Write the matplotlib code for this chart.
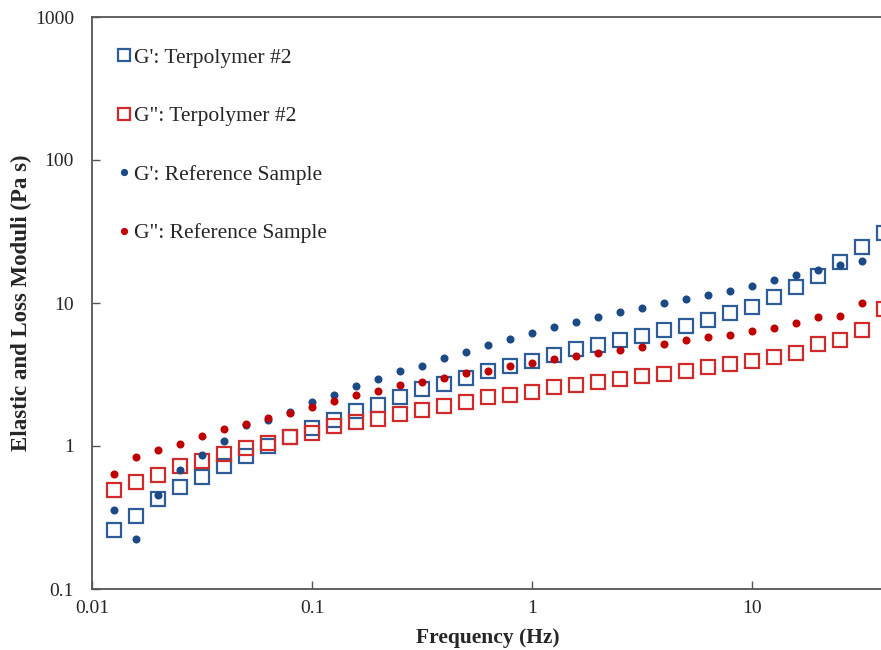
import matplotlib
matplotlib.use('Agg')
from matplotlib import pyplot as plt
from matplotlib.ticker import FixedLocator, FixedFormatter, NullLocator

# frequency (Hz)
freq = [0.0126, 0.0158, 0.02, 0.0251, 0.0316, 0.0398, 0.0501, 0.0631, 0.0794,
        0.1, 0.126, 0.158, 0.2, 0.251, 0.316, 0.398, 0.501, 0.631, 0.794,
        1.0, 1.26, 1.58, 2.0, 2.51, 3.16, 3.98, 5.01, 6.31, 7.94,
        10.0, 12.6, 15.8, 20.0, 25.1, 31.6, 39.8]

# Terpolymer #2
g1_terp = [0.259, 0.324, 0.428, 0.517, 0.610, 0.725, 0.851, 1.0, 1.156,
           1.336, 1.52, 1.757, 1.935, 2.20, 2.50, 2.71, 2.99, 3.34, 3.63,
           3.95, 4.33, 4.77, 5.08, 5.51, 5.91, 6.47, 6.90, 7.61, 8.51,
           9.42, 11.0, 12.9, 15.5, 19.3, 24.8, 30.9]
g2_terp = [0.492, 0.560, 0.630, 0.725, 0.789, 0.879, 0.968, 1.05, 1.156,
           1.239, 1.38, 1.47, 1.553, 1.674, 1.795, 1.904, 2.03, 2.20, 2.28,
           2.39, 2.59, 2.68, 2.80, 2.94, 3.09, 3.19, 3.36, 3.57, 3.74,
           3.93, 4.19, 4.49, 5.17, 5.51, 6.47, 9.08]

# Reference sample (last point is off the picture)
freq_ref = freq[:35]
g1_ref = [0.358, 0.224, 0.456, 0.679, 0.869, 1.084, 1.40, 1.52, 1.73,
          2.03, 2.28, 2.63, 2.94, 3.34, 3.64, 4.12, 4.56, 5.08, 5.60,
          6.17, 6.79, 7.36, 7.98, 8.65, 9.27, 10.0, 10.7, 11.4, 12.2,
          13.1, 14.5, 15.7, 17.1, 18.5, 19.7]
g2_ref = [0.634, 0.838, 0.938, 1.033, 1.175, 1.315, 1.425, 1.578, 1.70,
          1.875, 2.06, 2.27, 2.42, 2.67, 2.80, 2.99, 3.24, 3.34, 3.63,
          3.80, 4.08, 4.26, 4.49, 4.69, 4.92, 5.17, 5.51, 5.78, 6.00,
          6.37, 6.68, 7.25, 8.02, 8.11, 10.0]

xticks = [0.01, 0.1, 1, 10]
xlabels = ['0.01', '0.1', '1', '10']
yticks = [0.1, 1, 10, 100, 1000]
ylabels = ['0.1', '1', '10', '100', '1000']

plt.rcParams['font.family'] = ['Liberation Serif', 'DejaVu Serif']
txt = '#262626'
blue_sq = '#2E5C96'
red_sq = '#D12A2A'
blue_dot = '#1C4A87'
red_dot = '#C00000'

fig = plt.figure(figsize=(8.81, 6.5), dpi=100)
# right end of the axes sits just past the picture edge, as in the original
ax = fig.add_axes([92/881, 61/650, 792/881, 572/650])

ax.plot(freq, g1_terp, 's', ms=10, mfc='none', mec=blue_sq, mew=1.6,
        label="G': Terpolymer #2")
ax.plot(freq, g2_terp, 's', ms=10, mfc='none', mec=red_sq, mew=1.6,
        label='G": Terpolymer #2')
ax.plot(freq_ref, g1_ref, 'o', ms=5.8, color=blue_dot, mec='none',
        label="G': Reference Sample")
ax.plot(freq_ref, g2_ref, 'o', ms=5.8, color=red_dot, mec='none',
        label='G": Reference Sample')

ax.set_xscale('log')
ax.set_yscale('log')
ax.set_xlim(0.01, 39.81)
ax.set_ylim(0.1, 1000)

ax.xaxis.set_major_locator(FixedLocator(xticks))
ax.xaxis.set_major_formatter(FixedFormatter(xlabels))
ax.yaxis.set_major_locator(FixedLocator(yticks))
ax.yaxis.set_major_formatter(FixedFormatter(ylabels))
ax.xaxis.set_minor_locator(NullLocator())
ax.yaxis.set_minor_locator(NullLocator())

ax.tick_params(direction='in', length=6, width=1, color='#555555',
               labelsize=14, labelcolor=txt)
ax.tick_params(axis='x', pad=8)
ax.tick_params(axis='y', pad=13)
for s in ['left', 'bottom', 'top']:
    ax.spines[s].set_color('#555555')
    ax.spines[s].set_linewidth(1.3)
ax.spines['right'].set_visible(False)

ax.set_xlabel('Frequency (Hz)', fontsize=15.5, fontweight='bold', color=txt,
              labelpad=8)
ax.set_ylabel('Elastic and Loss Moduli (Pa s)', fontsize=16.5,
              fontweight='bold', color=txt, labelpad=2)

ax.legend(loc='upper left', bbox_to_anchor=(0.0, 0.99), frameon=False,
          fontsize=15.5, labelcolor=txt, handlelength=0.7, handletextpad=0.1,
          labelspacing=1.79, borderaxespad=0.75, markerscale=0.9)

plt.savefig('out.png', dpi=100)
